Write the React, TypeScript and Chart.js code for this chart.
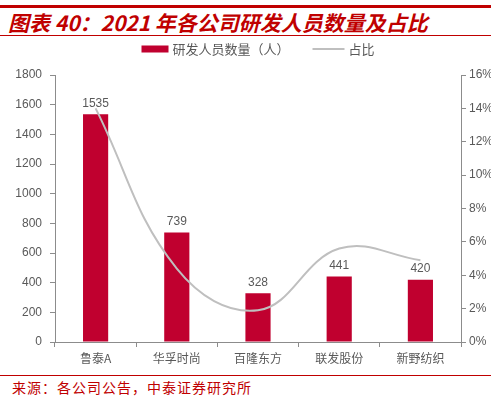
import React, { useEffect, useRef } from 'react';
import { Chart, registerables } from 'chart.js';

Chart.register(...registerables);

const categories = ['鲁泰A', '华孚时尚', '百隆东方', '联发股份', '新野纺织'];
const staffCounts = [1535, 739, 328, 441, 420];
const shareValues = [14.0, 4.4, 1.9, 5.6, 4.9];
const seriesNames = ['研发人员数量（人）', '占比'];
const titleText = '图表 40：2021 年各公司研发人员数量及占比';
const sourceText = '来源：各公司公告，中泰证券研究所';

const RED = '#C00000';
const BAR = '#C0002F';
const LINE = '#BFBFBF';
const AXIS = '#8C8C8C';
const TXT = '#595959';
const CJK = '"Noto Sans CJK SC", sans-serif';
const LATIN = '"Liberation Sans", Arial, sans-serif';

const barLabels = {
  id: 'barLabels',
  afterDatasetsDraw(chart: any) {
    const meta = chart.getDatasetMeta(0);
    const ctx = chart.ctx;
    ctx.save();
    ctx.font = '12px ' + LATIN;
    ctx.fillStyle = TXT;
    ctx.textAlign = 'center';
    ctx.textBaseline = 'bottom';
    meta.data.forEach((el: any, i: number) => {
      ctx.fillText(String(staffCounts[i]), el.x, el.y - 5);
    });
    ctx.restore();
  },
};

const customLegend = {
  id: 'customLegend',
  afterDraw(chart: any) {
    const ctx = chart.ctx;
    const ds = chart.data.datasets;
    ctx.save();
    ctx.font = '13px ' + CJK;
    const boxW = 27;
    const lineW = 32;
    const gapText = 4;
    const gapItem = 23;
    const w0 = boxW + gapText + ctx.measureText(ds[0].label).width;
    const w1 = lineW + gapText + ctx.measureText(ds[1].label).width;
    const total = w0 + gapItem + w1;
    const cx = (chart.chartArea.left + chart.chartArea.right) / 2;
    let x = cx - total / 2;
    const y = 13;
    ctx.fillStyle = BAR;
    ctx.fillRect(x, y - 3.5, boxW, 7);
    ctx.fillStyle = TXT;
    ctx.textAlign = 'left';
    ctx.textBaseline = 'middle';
    ctx.fillText(ds[0].label, x + boxW + gapText, y);
    x += w0 + gapItem;
    ctx.strokeStyle = LINE;
    ctx.lineWidth = 2;
    ctx.beginPath();
    ctx.moveTo(x, y);
    ctx.lineTo(x + lineW, y);
    ctx.stroke();
    ctx.fillText(ds[1].label, x + lineW + gapText, y);
    ctx.restore();
  },
};

export default function App() {
  const ref = useRef<HTMLCanvasElement>(null);
  useEffect(() => {
    if (!ref.current) return;
    const chart = new Chart(ref.current, {
      type: 'bar',
      data: {
        labels: categories,
        datasets: [
          {
            type: 'bar',
            label: seriesNames[0],
            data: staffCounts,
            backgroundColor: BAR,
            borderWidth: 0,
            barPercentage: 0.31,
            categoryPercentage: 1,
            yAxisID: 'y',
            order: 1,
          },
          {
            type: 'line',
            label: seriesNames[1],
            data: shareValues,
            borderColor: LINE,
            backgroundColor: LINE,
            borderWidth: 2,
            pointRadius: 0,
            tension: 0.4,
            fill: false,
            yAxisID: 'y1',
            order: 0,
          },
        ] as any,
      },
      options: {
        animation: false,
        responsive: false,
        maintainAspectRatio: false,
        layout: { padding: { top: 39, left: 0, right: 0, bottom: 0 } },
        plugins: {
          legend: { display: false },
          tooltip: { enabled: false },
        },
        scales: {
          x: {
            offset: true,
            grid: {
              display: true,
              offset: true,
              drawOnChartArea: false,
              drawTicks: true,
              tickLength: 5,
              color: AXIS,
            },
            border: { display: true, color: AXIS, width: 1 },
            ticks: {
              color: TXT,
              padding: 4,
              font: { family: CJK, size: 12 },
            },
            afterFit: (s: any) => { s.height = 30; },
          },
          y: {
            position: 'left',
            min: 0,
            max: 1800,
            ticks: {
              stepSize: 200,
              color: TXT,
              padding: 8,
              font: { family: LATIN, size: 12 },
              callback: (v: any) => String(v),
            },
            grid: {
              display: true,
              drawOnChartArea: false,
              drawTicks: true,
              tickLength: 5,
              color: AXIS,
            },
            border: { display: true, color: AXIS, width: 1 },
            afterFit: (s: any) => { s.width = 55; },
          },
          y1: {
            position: 'right',
            min: 0,
            max: 16,
            ticks: {
              stepSize: 2,
              color: TXT,
              padding: 3,
              font: { family: LATIN, size: 12 },
              callback: (v: any) => v + '%',
            },
            grid: {
              display: true,
              drawOnChartArea: false,
              drawTicks: true,
              tickLength: 5,
              color: AXIS,
            },
            border: { display: true, color: AXIS, width: 1 },
            afterFit: (s: any) => { s.width = 30; },
          },
        },
      },
      plugins: [barLabels, customLegend],
    });
    return () => chart.destroy();
  }, []);

  return (
    <div style={{ position: 'fixed', left: 0, top: 0, width: 491, height: 398, background: '#fff', overflow: 'hidden' }}>
      <div style={{ position: 'absolute', left: 0, top: 5, width: 491, height: 3, background: RED }} />
      <div
        style={{
          position: 'absolute', left: 8, top: 9, height: 26, lineHeight: '26px',
          color: RED, fontWeight: 'bold', fontStyle: 'italic', fontSize: 21,
          fontFamily: CJK, whiteSpace: 'nowrap',
        }}
      >
        {titleText}
      </div>
      <div style={{ position: 'absolute', left: 0, top: 35, width: 491, height: 1, background: RED }} />
      <canvas ref={ref} width={491} height={336} style={{ position: 'absolute', left: 0, top: 36, width: 491, height: 336 }} />
      <div style={{ position: 'absolute', left: 0, top: 375, width: 491, height: 1, background: RED }} />
      <div
        style={{
          position: 'absolute', left: 12, top: 377, height: 20, lineHeight: '20px',
          color: RED, fontSize: 14, letterSpacing: 1,
          fontFamily: CJK, whiteSpace: 'nowrap',
        }}
      >
        {sourceText}
      </div>
    </div>
  );
}
